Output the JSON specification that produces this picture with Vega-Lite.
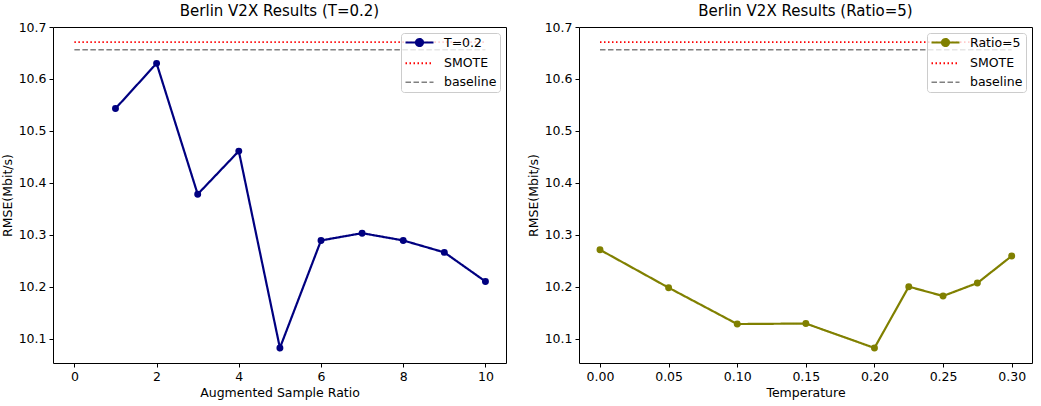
{
  "$schema": "https://vega.github.io/schema/vega-lite/v6.json",
  "padding": {"left": 0, "top": 3, "right": 5, "bottom": 2},
  "background": "white",
  "spacing": 19,
  "config": {
    "font": "DejaVu Sans",
    "view": {"stroke": "black", "strokeWidth": 1},
    "axis": {
      "grid": false, "domain": false, "tickColor": "black", "tickSize": 4, "tickWidth": 1,
      "labelFont": "DejaVu Sans", "labelFontSize": 12.5, "labelColor": "black",
      "titleFont": "DejaVu Sans", "titleFontSize": 12.5, "titleFontWeight": "normal", "titleColor": "black",
      "labelPadding": 3
    },
    "title": {"font": "DejaVu Sans", "fontSize": 15, "fontWeight": "normal", "color": "black", "offset": 2},
    "legend": {
      "orient": "top-right", "offset": 6, "title": null,
      "fillColor": "rgba(255,255,255,0.8)", "strokeColor": "#cccccc", "cornerRadius": 3, "padding": 3,
      "labelFont": "DejaVu Sans", "labelFontSize": 12.5, "labelColor": "black",
      "symbolSize": 100, "rowPadding": 6, "labelOffset": 27
    }
  },
  "datasets": {
    "ratio": [
      {"x": 1, "rmse": 10.543, "series": "T=0.2"},
      {"x": 2, "rmse": 10.630, "series": "T=0.2"},
      {"x": 3, "rmse": 10.378, "series": "T=0.2"},
      {"x": 4, "rmse": 10.461, "series": "T=0.2"},
      {"x": 5, "rmse": 10.082, "series": "T=0.2"},
      {"x": 6, "rmse": 10.289, "series": "T=0.2"},
      {"x": 7, "rmse": 10.303, "series": "T=0.2"},
      {"x": 8, "rmse": 10.289, "series": "T=0.2"},
      {"x": 9, "rmse": 10.266, "series": "T=0.2"},
      {"x": 10, "rmse": 10.210, "series": "T=0.2"},
      {"x": 0, "rmse": 10.671, "series": "SMOTE"},
      {"x": 10, "rmse": 10.671, "series": "SMOTE"},
      {"x": 0, "rmse": 10.656, "series": "baseline"},
      {"x": 10, "rmse": 10.656, "series": "baseline"}
    ],
    "temp": [
      {"x": 0.0, "rmse": 10.271, "series": "Ratio=5"},
      {"x": 0.05, "rmse": 10.198, "series": "Ratio=5"},
      {"x": 0.1, "rmse": 10.128, "series": "Ratio=5"},
      {"x": 0.15, "rmse": 10.129, "series": "Ratio=5"},
      {"x": 0.2, "rmse": 10.082, "series": "Ratio=5"},
      {"x": 0.225, "rmse": 10.200, "series": "Ratio=5"},
      {"x": 0.25, "rmse": 10.182, "series": "Ratio=5"},
      {"x": 0.275, "rmse": 10.207, "series": "Ratio=5"},
      {"x": 0.3, "rmse": 10.259, "series": "Ratio=5"},
      {"x": 0, "rmse": 10.671, "series": "SMOTE"},
      {"x": 0.3, "rmse": 10.671, "series": "SMOTE"},
      {"x": 0, "rmse": 10.656, "series": "baseline"},
      {"x": 0.3, "rmse": 10.656, "series": "baseline"}
    ]
  },
  "resolve": {"scale": {"color": "independent", "strokeDash": "independent", "strokeWidth": "independent"}},
  "hconcat": [
    {
      "width": 453, "height": 336,
      "title": "Berlin V2X Results (T=0.2)",
      "data": {"name": "ratio"},
      "layer": [
        {
          "mark": {"type": "line", "clip": true},
          "encoding": {
            "x": {"field": "x", "type": "quantitative", "scale": {"domain": [-0.52, 10.5], "nice": false, "zero": false}, "axis": {"values": [0, 2, 4, 6, 8, 10], "title": "Augmented Sample Ratio"}},
            "y": {"field": "rmse", "type": "quantitative", "scale": {"domain": [10.053, 10.7], "nice": false, "zero": false}, "axis": {"values": [10.1, 10.2, 10.3, 10.4, 10.5, 10.6, 10.7], "format": ".1f", "title": "RMSE(Mbit/s)"}},
            "color": {"field": "series", "type": "nominal", "scale": {"domain": ["T=0.2", "SMOTE", "baseline"], "range": ["#000080", "#ff0000", "#808080"]},
              "legend": {"symbolType": "stroke", "encode": {"symbols": {"update": {
                "shape": {"signal": "datum.value === 'T=0.2' ? 'M-1,0H4.6M2.5,0A0.7,0.7 0 1,1 1.1,0A0.7,0.7 0 1,1 2.5,0Z' : 'M-1,0H4.6'"},
                "fill": {"signal": "datum.value === 'T=0.2' ? '#000080' : 'transparent'"}}}}}},
            "strokeDash": {"field": "series", "type": "nominal", "scale": {"domain": ["T=0.2", "SMOTE", "baseline"], "range": [[1, 0], [1.5, 2.5], [5.5, 2.5]]}, "legend": null},
            "strokeWidth": {"field": "series", "type": "nominal", "scale": {"domain": ["T=0.2", "SMOTE", "baseline"], "range": [2.2, 1.5, 1.5]}, "legend": null},
            "order": {"field": "x", "type": "quantitative"}
          }
        },
        {
          "transform": [{"filter": "datum.series === 'T=0.2'"}],
          "mark": {"type": "point", "filled": true, "opacity": 1, "size": 48, "color": "#000080"},
          "encoding": {
            "x": {"field": "x", "type": "quantitative"},
            "y": {"field": "rmse", "type": "quantitative"}
          }
        }
      ]
    },
    {
      "width": 453, "height": 336,
      "title": "Berlin V2X Results (Ratio=5)",
      "data": {"name": "temp"},
      "layer": [
        {
          "mark": {"type": "line", "clip": true},
          "encoding": {
            "x": {"field": "x", "type": "quantitative", "scale": {"domain": [-0.0153, 0.3148], "nice": false, "zero": false}, "axis": {"values": [0, 0.05, 0.1, 0.15, 0.2, 0.25, 0.3], "format": ".2f", "title": "Temperature"}},
            "y": {"field": "rmse", "type": "quantitative", "scale": {"domain": [10.053, 10.7], "nice": false, "zero": false}, "axis": {"values": [10.1, 10.2, 10.3, 10.4, 10.5, 10.6, 10.7], "format": ".1f", "title": "RMSE(Mbit/s)"}},
            "color": {"field": "series", "type": "nominal", "scale": {"domain": ["Ratio=5", "SMOTE", "baseline"], "range": ["#808000", "#ff0000", "#808080"]},
              "legend": {"symbolType": "stroke", "encode": {"symbols": {"update": {
                "shape": {"signal": "datum.value === 'Ratio=5' ? 'M-1,0H4.6M2.5,0A0.7,0.7 0 1,1 1.1,0A0.7,0.7 0 1,1 2.5,0Z' : 'M-1,0H4.6'"},
                "fill": {"signal": "datum.value === 'Ratio=5' ? '#808000' : 'transparent'"}}}}}},
            "strokeDash": {"field": "series", "type": "nominal", "scale": {"domain": ["Ratio=5", "SMOTE", "baseline"], "range": [[1, 0], [1.5, 2.5], [5.5, 2.5]]}, "legend": null},
            "strokeWidth": {"field": "series", "type": "nominal", "scale": {"domain": ["Ratio=5", "SMOTE", "baseline"], "range": [2.2, 1.5, 1.5]}, "legend": null},
            "order": {"field": "x", "type": "quantitative"}
          }
        },
        {
          "transform": [{"filter": "datum.series === 'Ratio=5'"}],
          "mark": {"type": "point", "filled": true, "opacity": 1, "size": 48, "color": "#808000"},
          "encoding": {
            "x": {"field": "x", "type": "quantitative"},
            "y": {"field": "rmse", "type": "quantitative"}
          }
        }
      ]
    }
  ]
}
